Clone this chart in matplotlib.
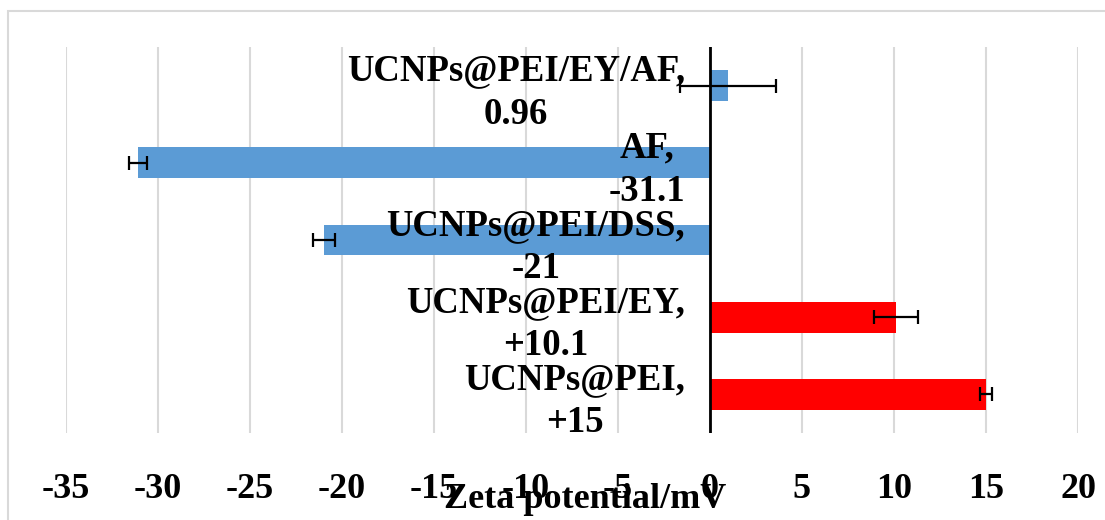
import matplotlib
matplotlib.use('Agg')
import matplotlib.pyplot as plt
from matplotlib.patches import Rectangle

# zeta potential of each sample, bottom to top
samples = ['UCNPs@PEI', 'UCNPs@PEI/EY', 'UCNPs@PEI/DSS', 'AF', 'UCNPs@PEI/EY/AF']
zeta_text = ['+15', '+10.1', '-21', '-31.1', '0.96']
zeta = [float(s) for s in zeta_text]
zeta_err = [0.3, 1.2, 0.6, 0.5, 2.6]
bar_colors = ['#FF0000', '#FF0000', '#5B9BD5', '#5B9BD5', '#5B9BD5']
xticks = [-35, -30, -25, -20, -15, -10, -5, 0, 5, 10, 15, 20]

plt.rcParams['font.family'] = ['Liberation Serif', 'DejaVu Serif']
plt.rcParams['font.weight'] = 'bold'
plt.rcParams['axes.labelweight'] = 'bold'
plt.rcParams['font.size'] = 26

W, H = 1105, 520
fig = plt.figure(figsize=(W / 100, H / 100), dpi=100)
ax = fig.add_axes([66 / W, (H - 433) / H, (1078 - 66) / W, (433 - 47) / H])

# outer chart frame
fig.patches.append(Rectangle((8 / W, -0.2), 1.5, (H - 11) / H + 0.2, transform=fig.transFigure,
                             fill=False, ec='#d9d9d9', lw=1.5))

pos = list(range(len(samples)))
ax.barh(pos, zeta, height=0.4, color=bar_colors, zorder=3,
        xerr=zeta_err, error_kw=dict(ecolor='black', elinewidth=1.6, capsize=5, capthick=1.6, zorder=4))

ax.set_xlim(-35, 20)
ax.set_ylim(-0.5, len(samples) - 0.5)
ax.set_xticks(xticks)
ax.set_xticklabels([str(t) for t in xticks])
ax.set_yticks([])
ax.tick_params(axis='x', length=0, pad=29)
ax.grid(axis='x', color='#d9d9d9', lw=1.5, zorder=0)
ax.axvline(0, color='black', lw=2, zorder=5)
for sp in ax.spines.values():
    sp.set_visible(False)

# data labels: name and value, placed just left of the zero line
for p, name, txt in zip(pos, samples, zeta_text):
    ax.annotate(f'{name},\n{txt}', xy=(0, p), xytext=(-18, -5), textcoords='offset points',
                ha='right', va='center', multialignment='center', linespacing=1.3,
                fontsize=26.5, zorder=6)

ax.set_xlabel('Zeta potential/mV')
ax.xaxis.set_label_coords(0.513, -0.13)

fig.savefig('out.png', dpi=100)
